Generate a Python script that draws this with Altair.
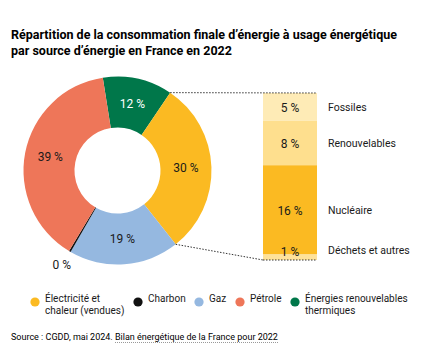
import math
import json
import altair as alt
import pandas as pd

# ---------------- data ----------------
sources = ["Énergies renouvelables thermiques", "Électricité et chaleur (vendues)",
           "Gaz", "Charbon", "Pétrole"]
shares = [12, 30, 19, 0.3, 39]
share_labels = ["12 %", "30 %", "19 %", "0 %", "39 %"]

legend_order = ["Électricité et chaleur (vendues)", "Charbon", "Gaz", "Pétrole",
                "Énergies renouvelables thermiques"]
legend_lines = {
    "Électricité et chaleur (vendues)": ["Électricité et", "chaleur (vendues)"],
    "Énergies renouvelables thermiques": ["Énergies renouvelables", "thermiques"],
}

elec_parts = ["Fossiles", "Renouvelables", "Nucléaire", "Déchets et autres"]
elec_shares = [5, 8, 16, 1]
elec_labels = ["5 %", "8 %", "16 %", "1 %"]

title_lines = ["Répartition de la consommation finale d’énergie à usage énergétique",
               "par source d’énergie en France en 2022"]
source_text = "Source : CGDD, mai 2024. Bilan énergétique de la France pour 2022"

# ---------------- style / layout ----------------
FONT = "Roboto"
DARK = "#1a1a1a"
pie_colors = ["#FBBA22", "#111111", "#95B8E0", "#EE7659", "#00774A"]
bar_colors = ["#FEEBB6", "#FEDF8E", "#FBBA22", "#FEE29A"]
CX, CY = 117.5, 170.5
R_OUT, R_IN = 94, 43
START_DEG = -9
BAR_L, BAR_R = 263, 317
BAR_TOP, BAR_BOT = 93, 260

df_pie = pd.DataFrame({"source": sources, "share": shares,
                       "label": share_labels, "idx": list(range(len(sources)))})
df_el = pd.DataFrame({"part": elec_parts, "share": elec_shares,
                      "label": elec_labels, "idx": list(range(len(elec_parts)))})
one = pd.DataFrame({"k": [0]})

start = math.radians(START_DEG)
theta_scale = alt.Scale(range=[start, start + 2 * math.pi])

label_expr = " : ".join(
    f"datum.label == {json.dumps(k)} ? {json.dumps(v)}" for k, v in legend_lines.items()
) + " : [datum.label, ' ']"

pie_base = alt.Chart(df_pie).encode(
    theta=alt.Theta("share:Q", stack=True, scale=theta_scale),
    order=alt.Order("idx:Q"),
    x=alt.value(CX),
    y=alt.value(CY),
)

arcs = pie_base.mark_arc(innerRadius=R_IN, outerRadius=R_OUT).encode(
    color=alt.Color(
        "source:N",
        scale=alt.Scale(domain=legend_order, range=pie_colors),
        legend=alt.Legend(
            orient="none", legendX=30, legendY=297, direction="horizontal",
            title=None, symbolType="circle", symbolSize=85, symbolStrokeWidth=0,
            labelFont=FONT, labelFontSize=10, labelColor=DARK, labelLimit=300,
            labelOffset=5, columnPadding=8, labelExpr=label_expr,
            labelBaseline="alphabetic", padding=0,
        ),
    )
)

green = sources[0]
pie_text = pie_base.mark_text(radius=(R_IN + R_OUT) / 2, font=FONT, fontSize=12,
                              baseline="middle", align="center").encode(
    text=alt.condition("datum.source == 'Charbon'", alt.value(""), alt.Text("label:N")),
    color=alt.condition(f"datum.source == {json.dumps(green)}",
                        alt.value("white"), alt.value(DARK)),
)
coal_text = pie_base.mark_text(radius=R_OUT + 16, font=FONT, fontSize=12,
                               baseline="middle", align="center", color=DARK).encode(
    text=alt.condition("datum.source == 'Charbon'", alt.Text("label:N"), alt.value("")),
)

# ---------- electricity detail bar ----------
yscale = alt.Scale(domain=[0, sum(elec_shares)], range=[BAR_BOT, BAR_TOP])
bar_base = alt.Chart(df_el).transform_stack(
    stack="share", groupby=[], as_=["s0", "s1"],
    sort=[alt.SortField("idx", order="descending")],
).transform_calculate(mid="(datum.s0 + datum.s1) / 2")

bar = bar_base.mark_bar().encode(
    x=alt.value(BAR_L), x2=alt.value(BAR_R),
    y=alt.Y("s0:Q", scale=yscale, axis=None), y2="s1:Q",
    color=alt.Color("part:N", scale=alt.Scale(domain=elec_parts, range=bar_colors),
                    legend=None),
)
big = bar_base.transform_filter("datum.share > 2")
small = bar_base.transform_filter("datum.share <= 2")
bar_num = big.mark_text(font=FONT, fontSize=12, color=DARK, dy=1).encode(
    x=alt.value((BAR_L + BAR_R) / 2), y=alt.Y("mid:Q", scale=yscale, axis=None),
    text="label:N")
bar_cat = big.mark_text(font=FONT, fontSize=10.5, color=DARK, align="left", dy=1).encode(
    x=alt.value(328), y=alt.Y("mid:Q", scale=yscale, axis=None), text="part:N")
bar_num_s = small.mark_text(font=FONT, fontSize=12, color=DARK, dy=-5).encode(
    x=alt.value((BAR_L + BAR_R) / 2), y=alt.Y("mid:Q", scale=yscale, axis=None),
    text="label:N")
bar_cat_s = small.mark_text(font=FONT, fontSize=10.5, color=DARK, align="left", dy=-6).encode(
    x=alt.value(328), y=alt.Y("mid:Q", scale=yscale, axis=None), text="part:N")

# ---------- connectors from the electricity slice to the bar ----------
total = sum(shares)
i_el = sources.index("Électricité et chaleur (vendues)")
a0 = math.radians(START_DEG + 360 * sum(shares[:i_el]) / total)
a1 = math.radians(START_DEG + 360 * sum(shares[:i_el + 1]) / total)
p0 = (CX + R_OUT * math.sin(a0), CY - R_OUT * math.cos(a0))
p1 = (CX + R_OUT * math.sin(a1), CY - R_OUT * math.cos(a1))
dash = dict(strokeDash=[1.5, 1.5], color="#333333", strokeWidth=1)
conn_top = alt.Chart(one).mark_rule(**dash).encode(
    x=alt.value(p0[0]), y=alt.value(p0[1]), x2=alt.value(BAR_R), y2=alt.value(BAR_TOP))
conn_bot1 = alt.Chart(one).mark_rule(**dash).encode(
    x=alt.value(p1[0]), y=alt.value(p1[1]), x2=alt.value(BAR_L), y2=alt.value(BAR_BOT))
conn_bot2 = alt.Chart(one).mark_rule(**dash).encode(
    x=alt.value(BAR_L), y=alt.value(BAR_BOT), x2=alt.value(BAR_R), y2=alt.value(BAR_BOT))

# ---------- titles ----------
title = alt.Chart(one).mark_text(font=FONT, fontSize=12.5, fontWeight="bold", color="black",
                                 align="left", baseline="alphabetic", lineHeight=16).encode(
    x=alt.value(11), y=alt.value(39), text=alt.value(title_lines))
source = alt.Chart(one).mark_text(font=FONT, fontSize=9, color="black",
                                  align="left", baseline="alphabetic").encode(
    x=alt.value(11), y=alt.value(340), text=alt.value(source_text))
underline = alt.Chart(one).mark_rule(strokeDash=[1, 1], color="#999999", strokeWidth=1).encode(
    x=alt.value(115), x2=alt.value(279), y=alt.value(342.5))

chart = alt.layer(
    arcs, pie_text, coal_text, bar, bar_num, bar_cat, bar_num_s, bar_cat_s,
    conn_top, conn_bot1, conn_bot2, title, source, underline,
).resolve_scale(color="independent").properties(
    width=421, height=346, padding=0, autosize="none", background="white",
).configure_view(strokeWidth=0)

chart.save("out.html", embed_options={"renderer": "svg", "actions": False})
